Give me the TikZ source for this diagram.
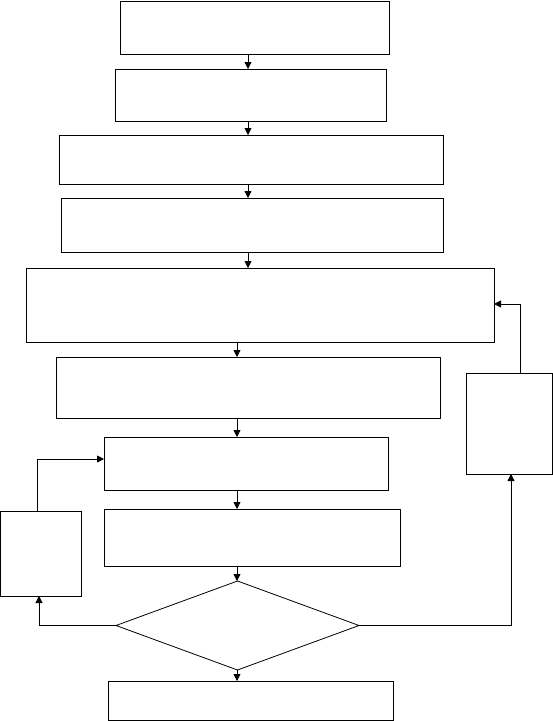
\documentclass[tikz,border=0pt]{standalone}
\usepackage{tikz}
\usetikzlibrary{arrows.meta,shapes.geometric,calc}

\begin{document}
\begin{tikzpicture}[
  x=1pt, y=-1pt,
  >={Triangle[length=7pt,width=7pt]},
  stepbox/.style={
    draw,
    line width=0.8pt,
    inner sep=0pt,
    outer sep=0pt
  },
  decision/.style={
    draw,
    diamond,
    line width=0.8pt,
    inner sep=0pt,
    outer sep=0pt
  },
  flow/.style={->, line width=0.8pt}
]
  \useasboundingbox (0,0) rectangle (553,721);

  % --- MAIN COLUMN ---
  \node[stepbox, minimum width=269pt, minimum height=53pt] (s1) at (254.5,27.5) {};
  \node[stepbox, minimum width=271pt, minimum height=52pt] (s2) at (250.5,95) {};
  \node[stepbox, minimum width=384pt, minimum height=49pt] (s3) at (251,159.5) {};
  \node[stepbox, minimum width=382pt, minimum height=54pt] (s4) at (252,225) {};
  \node[stepbox, minimum width=468pt, minimum height=74pt] (s5) at (260,305) {};
  \node[stepbox, minimum width=384pt, minimum height=61pt] (s6) at (248,387.5) {};
  \node[stepbox, minimum width=284pt, minimum height=53pt] (s7) at (246,463.5) {};
  \node[stepbox, minimum width=296pt, minimum height=57pt] (s8) at (252,537.5) {};
  \node[decision, minimum width=243pt, minimum height=89pt] (dec) at (237.5,625.5) {};
  \node[stepbox, minimum width=285pt, minimum height=39pt] (s9) at (250.5,700.5) {};

  % --- SIDE BOXES ---
  \node[stepbox, minimum width=81pt, minimum height=85pt] (fixL) at (41,553.5) {};
  \node[stepbox, minimum width=86pt, minimum height=101pt] (fixR) at (509,423.5) {};

  % Arrow columns and loop corners
  \coordinate (colA) at (248,0);
  \coordinate (colB) at (237,0);
  \coordinate (loopL) at (37,459);
  \coordinate (loopR) at (520,304);
  \coordinate (retL) at (39,0);
  \coordinate (retR) at (511,0);

  % Connecting Arrows
  \draw[flow] (s1.south -| colA) -- (s2.north -| colA);
  \draw[flow] (s2.south -| colA) -- (s3.north -| colA);
  \draw[flow] (s3.south -| colA) -- (s4.north -| colA);
  \draw[flow] (s4.south -| colA) -- (s5.north -| colA);
  \draw[flow] (s5.south -| colB) -- (s6.north -| colB);
  \draw[flow] (s6.south -| colB) -- (s7.north -| colB);
  \draw[flow] (s7.south -| colB) -- (s8.north -| colB);
  \draw[flow] (s8.south -| colB) -- (dec.north -| colB);
  \draw[flow] (dec.south -| colB) -- (s9.north -| colB);

  % Loops
  \draw[flow] (dec.west) -| (fixL.south -| retL);
  \draw[flow] (fixL.north -| loopL) |- (s7.west |- loopL);
  \draw[flow] (dec.east) -| (fixR.south -| retR);
  \draw[flow] (fixR.north -| loopR) |- (s5.east |- loopR);

\end{tikzpicture}
\end{document}
